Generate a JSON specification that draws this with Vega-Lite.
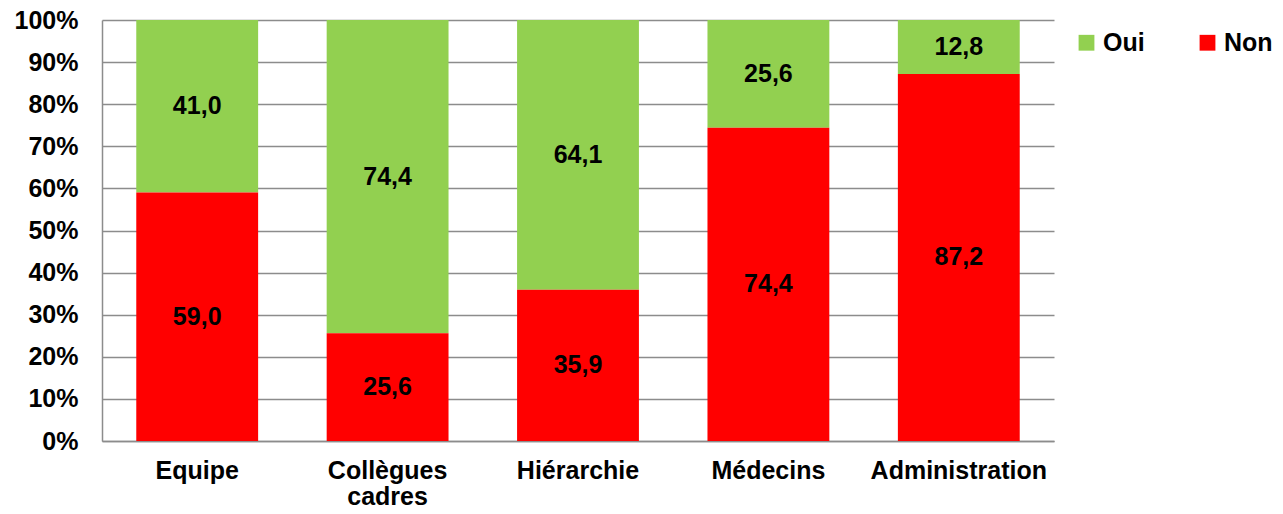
{
  "$schema": "https://vega.github.io/schema/vega-lite/v6.json",
  "width": 952,
  "height": 421,
  "autosize": {"type": "none"},
  "padding": {"left": 102, "top": 20, "right": 229, "bottom": 73},
  "background": "white",
  "config": {
    "locale": {"number": {"decimal": ",", "thousands": " ", "grouping": [3], "currency": ["", " €"]}},
    "view": {"stroke": null},
    "font": "Liberation Sans"
  },
  "data": {
    "values": [
      {"cat": "Equipe", "serie": "Oui", "value": 41.0},
      {"cat": "Equipe", "serie": "Non", "value": 59.0},
      {"cat": "Collègues cadres", "serie": "Oui", "value": 74.4},
      {"cat": "Collègues cadres", "serie": "Non", "value": 25.6},
      {"cat": "Hiérarchie", "serie": "Oui", "value": 64.1},
      {"cat": "Hiérarchie", "serie": "Non", "value": 35.9},
      {"cat": "Médecins", "serie": "Oui", "value": 25.6},
      {"cat": "Médecins", "serie": "Non", "value": 74.4},
      {"cat": "Administration", "serie": "Oui", "value": 12.8},
      {"cat": "Administration", "serie": "Non", "value": 87.2}
    ]
  },
  "transform": [
    {"stack": "value", "groupby": ["cat"], "sort": [{"field": "serie", "order": "ascending"}], "as": ["v0", "v1"]},
    {"calculate": "(datum.v0 + datum.v1) / 2", "as": "mid"}
  ],
  "encoding": {
    "x": {
      "field": "cat",
      "type": "nominal",
      "sort": null,
      "scale": {"paddingInner": 0.36, "paddingOuter": 0.18},
      "axis": {
        "title": null,
        "labelAngle": 0,
        "ticks": false,
        "domainColor": "#8c8c8c",
        "domainWidth": 1.5,
        "labelFont": "Liberation Sans",
        "labelFontWeight": "bold",
        "labelFontSize": 25,
        "labelColor": "black",
        "labelPadding": 17,
        "labelLineHeight": 26,
        "labelExpr": "datum.label == 'Collègues cadres' ? ['Collègues', 'cadres'] : datum.label"
      }
    }
  },
  "layer": [
    {
      "mark": {"type": "bar"},
      "encoding": {
        "y": {
          "field": "v1",
          "type": "quantitative",
          "scale": {"domain": [0, 100], "nice": false},
          "axis": {
            "title": null,
            "values": [0, 10, 20, 30, 40, 50, 60, 70, 80, 90, 100],
            "labelExpr": "datum.value + '%'",
            "ticks": false,
            "grid": true,
            "gridColor": "#8c8c8c",
            "gridWidth": 1.5,
            "domainColor": "#8c8c8c",
            "domainWidth": 1.5,
            "labelFont": "Liberation Sans",
            "labelFontWeight": "bold",
            "labelFontSize": 25,
            "labelColor": "black",
            "labelPadding": 24
          }
        },
        "y2": {"field": "v0"},
        "color": {
          "field": "serie",
          "type": "nominal",
          "scale": {"domain": ["Oui", "Non"], "range": ["#92D050", "#FF0000"]},
          "legend": {
            "title": null,
            "orient": "none",
            "direction": "horizontal",
            "legendX": 972,
            "legendY": 10,
            "symbolType": "square",
            "symbolSize": 250,
            "symbolStrokeWidth": 0,
            "symbolOpacity": 1,
            "labelFont": "Liberation Sans",
            "labelFontWeight": "bold",
            "labelFontSize": 25,
            "labelColor": "black",
            "labelOffset": 4,
            "columnPadding": 50
          }
        }
      }
    },
    {
      "mark": {"type": "text", "font": "Liberation Sans", "fontWeight": "bold", "fontSize": 25, "color": "black", "baseline": "middle"},
      "encoding": {
        "y": {"field": "mid", "type": "quantitative"},
        "text": {"field": "value", "type": "quantitative", "format": ".1f"}
      }
    }
  ]
}
